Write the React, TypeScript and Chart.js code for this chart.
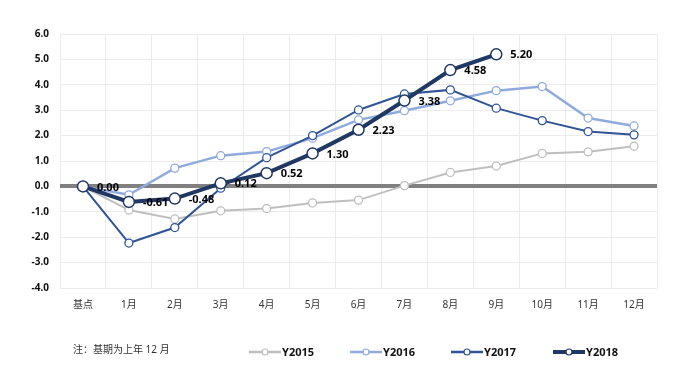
import React, { useEffect, useRef } from "react";
import { Chart, registerables } from "chart.js";

Chart.register(...registerables);

const categories = ["基点", "1月", "2月", "3月", "4月", "5月", "6月", "7月", "8月", "9月", "10月", "11月", "12月"];
const y2015 = [0, -0.93, -1.28, -0.96, -0.87, -0.65, -0.54, 0.03, 0.55, 0.8, 1.3, 1.36, 1.58];
const y2016 = [0, -0.33, 0.72, 1.21, 1.37, 1.9, 2.62, 2.98, 3.37, 3.77, 3.93, 2.69, 2.38];
const y2017 = [0, -2.23, -1.62, -0.07, 1.13, 2.0, 3.01, 3.64, 3.8, 3.08, 2.59, 2.16, 2.03];
const y2018 = [0, -0.61, -0.48, 0.12, 0.52, 1.3, 2.23, 3.38, 4.58, 5.2];
const seriesNames = ["Y2015", "Y2016", "Y2017", "Y2018"];
const seriesColors = ["#bfbfbf", "#8faadc", "#2f5597", "#203864"];
const seriesWidths = [2, 2.5, 2, 4];
const yTicks = [6, 5, 4, 3, 2, 1, 0, -1, -2, -3, -4];
const noteText = "注：基期为上年 12 月";

const FONT = "'Noto Sans', 'Noto Sans CJK SC', sans-serif";

export default function App() {
  const ref = useRef<HTMLCanvasElement>(null);
  useEffect(() => {
    document.body.style.margin = "0";
    const canvas = ref.current!;
    const allData = [y2015, y2016, y2017, y2018];

    const labelPlugin = {
      id: "labels",
      afterDatasetsDraw(chart: any) {
        const ctx = chart.ctx;
        const meta = chart.getDatasetMeta(3);
        ctx.save();
        ctx.font = `bold 11px ${FONT}`;
        ctx.fillStyle = "#000";
        ctx.textAlign = "left";
        ctx.textBaseline = "middle";
        meta.data.forEach((pt: any, i: number) => {
          ctx.fillText(y2018[i].toFixed(2), pt.x + 14, pt.y + 1);
        });
        ctx.restore();
      },
      afterDraw(chart: any) {
        const ctx = chart.ctx;
        const ca = chart.chartArea;
        ctx.save();
        ctx.font = `10px ${FONT}`;
        ctx.fillStyle = "#333";
        ctx.textBaseline = "middle";
        ctx.textAlign = "left";
        ctx.fillText(noteText, ca.left + 13, ca.bottom + 62);
        const ly = ca.bottom + 64;
        const starts = [249, 350, 451, 553];
        seriesNames.forEach((name, i) => {
          const x0 = starts[i];
          ctx.strokeStyle = seriesColors[i];
          ctx.lineWidth = i === 3 ? 4 : 2.5;
          ctx.beginPath();
          ctx.moveTo(x0, ly);
          ctx.lineTo(x0 + 32, ly);
          ctx.stroke();
          ctx.beginPath();
          ctx.arc(x0 + 16, ly, 3, 0, Math.PI * 2);
          ctx.fillStyle = "#fff";
          ctx.fill();
          ctx.lineWidth = 1.2;
          ctx.strokeStyle = seriesColors[i];
          ctx.stroke();
          ctx.font = `bold 11px ${FONT}`;
          ctx.fillStyle = "#111";
          ctx.fillText(name, x0 + 33, ly + 1);
        });
        ctx.restore();
      },
    };

    const chart = new Chart(canvas, {
      type: "line",
      data: {
        labels: categories,
        datasets: allData.map((d, i) => ({
          label: seriesNames[i],
          data: d,
          borderColor: seriesColors[i],
          borderWidth: seriesWidths[i],
          pointBackgroundColor: "#fff",
          pointBorderColor: seriesColors[i],
          pointBorderWidth: i === 3 ? 1.5 : 1.3,
          pointRadius: i === 3 ? 5.5 : 4,
          tension: 0,
          order: 4 - i,
        })),
      },
      options: {
        animation: false,
        responsive: false,
        layout: { padding: { top: 34, right: 43, left: 0, bottom: 0 } },
        plugins: { legend: { display: false }, tooltip: { enabled: false } },
        scales: {
          x: {
            type: "category",
            offset: true,
            grid: { offset: true, color: "#ececec", drawTicks: false },
            border: { display: false },
            ticks: { font: { family: FONT, size: 10 }, color: "#333", padding: 11, maxRotation: 0 },
            afterFit(scale: any) {
              scale.height = 83;
            },
          },
          y: {
            min: -4,
            max: 6,
            afterBuildTicks(scale: any) {
              scale.ticks = yTicks.map((v) => ({ value: v }));
            },
            grid: {
              drawTicks: false,
              color: (c: any) => (c.tick && c.tick.value === 0 ? "#808080" : "#ececec"),
              lineWidth: (c: any) => (c.tick && c.tick.value === 0 ? 4 : 1),
            },
            border: { display: false },
            ticks: {
              font: { family: FONT, size: 10, weight: "bold" },
              color: "#111",
              padding: 11,
              callback: (v: any) => Number(v).toFixed(1),
            },
            afterFit(scale: any) {
              scale.width = 60;
            },
          },
        },
      },
      plugins: [labelPlugin],
    } as any);
    return () => chart.destroy();
  }, []);
  return (
    <div style={{ position: "absolute", left: 0, top: 0, width: 700, height: 371, background: "#fff" }}>
      <canvas ref={ref} width={700} height={371} style={{ width: 700, height: 371 }} />
    </div>
  );
}
